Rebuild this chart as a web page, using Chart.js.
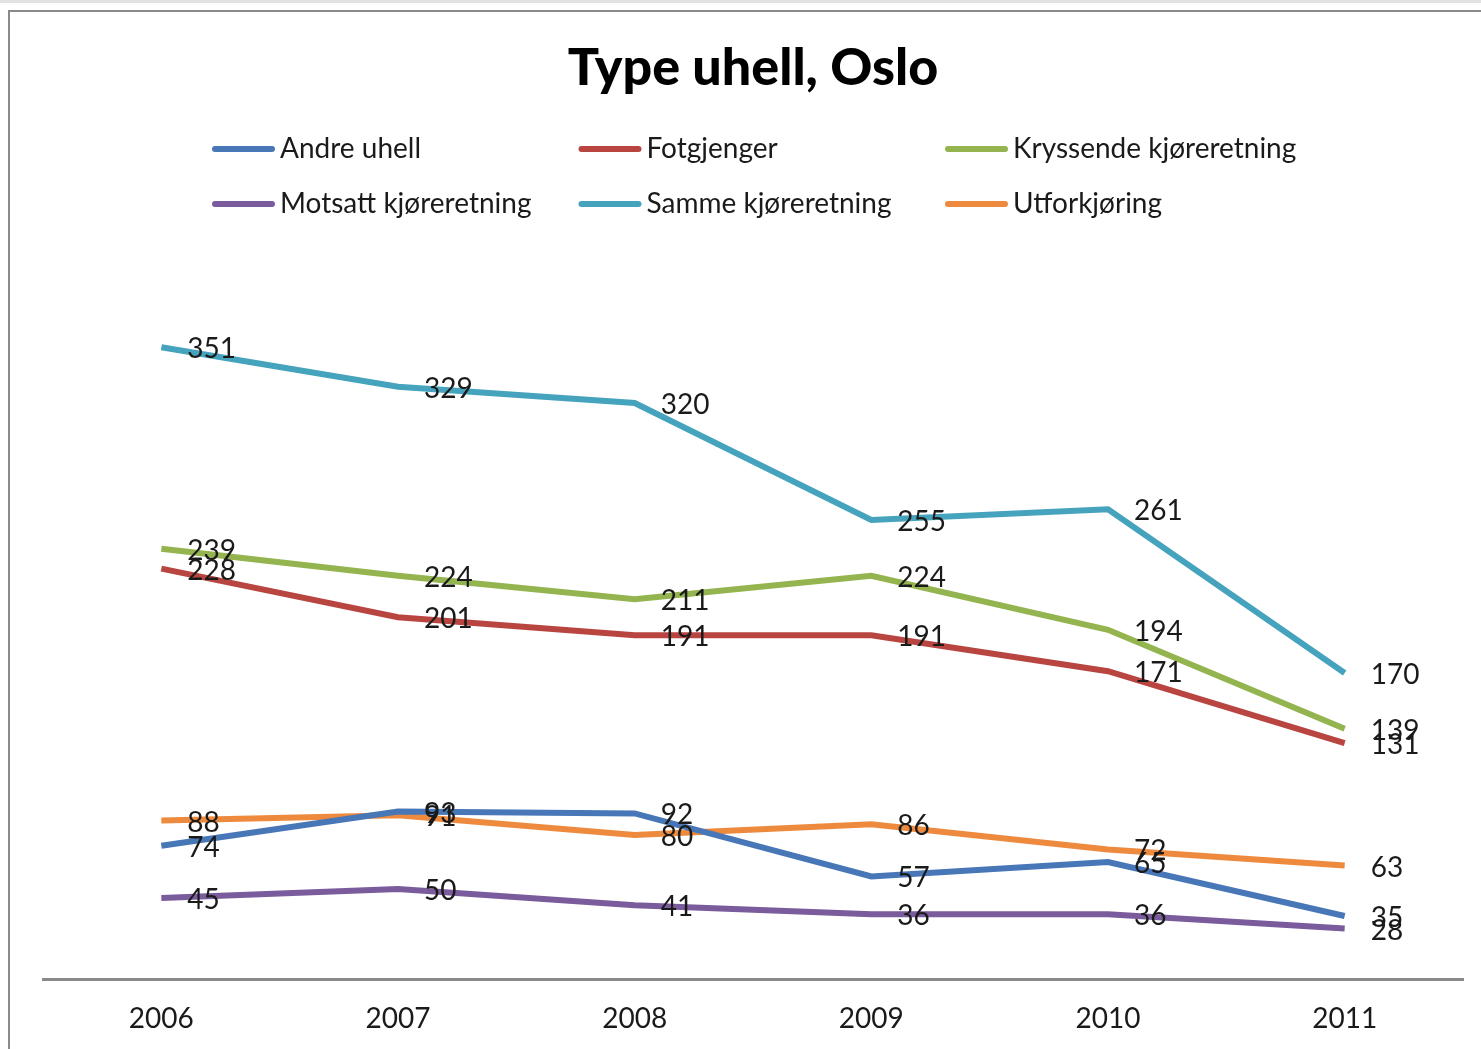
<!DOCTYPE html>
<html>
<head>
<meta charset="utf-8">
<script src="https://cdn.jsdelivr.net/npm/chart.js@4/dist/chart.umd.min.js"></script>
<style>
  html, body { margin: 0; padding: 0; background: #fff; }
  #strip { position: absolute; left: 0; top: 0; width: 1481px; height: 3px; background: #e2e2e2; }
  #frame { position: absolute; left: 8px; top: 10px; width: 1473px; height: 1039px;
           border-left: 2px solid #8a8a8a; border-top: 2px solid #8a8a8a; box-sizing: border-box; }
  #wrap { position: absolute; left: 0; top: 0; width: 1481px; height: 1049px; }
</style>
</head>
<body>
<div id="strip"></div>
<div id="frame"></div>
<div id="wrap"><canvas id="chart" width="1481" height="1049"></canvas></div>
<script>
const years = ['2006', '2007', '2008', '2009', '2010', '2011'];

const andreUhell = [74, 93, 92, 57, 65, 35];
const fotgjenger = [228, 201, 191, 191, 171, 131];
const kryssende = [239, 224, 211, 224, 194, 139];
const motsatt = [45, 50, 41, 36, 36, 28];
const samme = [351, 329, 320, 255, 261, 170];
const utforkjoring = [88, 91, 80, 86, 72, 63];

const seriesNames = ['Andre uhell', 'Fotgjenger', 'Kryssende kjøreretning',
  'Motsatt kjøreretning', 'Samme kjøreretning', 'Utforkjøring'];
const seriesColors = ['#4777b6', '#b94541', '#93b44e', '#7a5b9c', '#45a3bd', '#ee8a3e'];
const seriesValues = [andreUhell, fotgjenger, kryssende, motsatt, samme, utforkjoring];

const FONT = 'Lato, "Open Sans", sans-serif';

// title, legend and point labels drawn by hand
const decorations = {
  id: 'decorations',
  afterDatasetsDraw(chart) {
    const ctx = chart.ctx;
    ctx.save();
    ctx.fillStyle = '#1a1a1a';
    ctx.textBaseline = 'middle';
    ctx.font = '28px ' + FONT;
    ctx.textAlign = 'left';
    chart.data.datasets.forEach((ds, i) => {
      chart.getDatasetMeta(i).data.forEach((pt, j) => {
        ctx.fillText(String(ds.data[j]), pt.x + 26, pt.y + 2);
      });
    });
    ctx.restore();
  },
  afterDraw(chart) {
    const ctx = chart.ctx;
    ctx.save();
    ctx.fillStyle = '#000';
    ctx.textAlign = 'center';
    ctx.textBaseline = 'middle';
    ctx.font = '900 52px ' + FONT;
    ctx.fillText('Type uhell, Oslo', 753, 68);

    ctx.font = '28px ' + FONT;
    ctx.textAlign = 'left';
    chart.data.datasets.forEach((ds, i) => {
      const x = 212 + (i % 3) * 366.5;
      const y = 149 + Math.floor(i / 3) * 55;
      ctx.strokeStyle = ds.borderColor;
      ctx.lineWidth = 6;
      ctx.lineCap = 'round';
      ctx.beginPath();
      ctx.moveTo(x + 3, y);
      ctx.lineTo(x + 60, y);
      ctx.stroke();
      ctx.fillStyle = '#1a1a1a';
      ctx.fillText(ds.label, x + 68, y);
    });
    ctx.restore();
  }
};

new Chart(document.getElementById('chart'), {
  type: 'line',
  data: {
    labels: years,
    datasets: seriesNames.map((name, i) => ({
      label: name,
      data: seriesValues[i],
      borderColor: seriesColors[i],
      backgroundColor: seriesColors[i],
      borderWidth: 6,
      pointRadius: 0,
      tension: 0,
      fill: false
    }))
  },
  options: {
    responsive: false,
    animation: false,
    layout: { padding: { top: 259, left: 43, right: 18, bottom: 0 } },
    plugins: {
      legend: { display: false },
      title: { display: false },
      tooltip: { enabled: false }
    },
    scales: {
      x: {
        offset: true,
        afterFit(scale) { scale.height = 70; },
        grid: { display: false, drawTicks: false },
        border: { display: true, color: '#8a8a8a', width: 3 },
        ticks: { color: '#1a1a1a', font: { family: FONT, size: 28 }, padding: 23 }
      },
      y: {
        display: false,
        min: 0,
        max: 400
      }
    }
  },
  plugins: [decorations]
});
</script>
</body>
</html>
